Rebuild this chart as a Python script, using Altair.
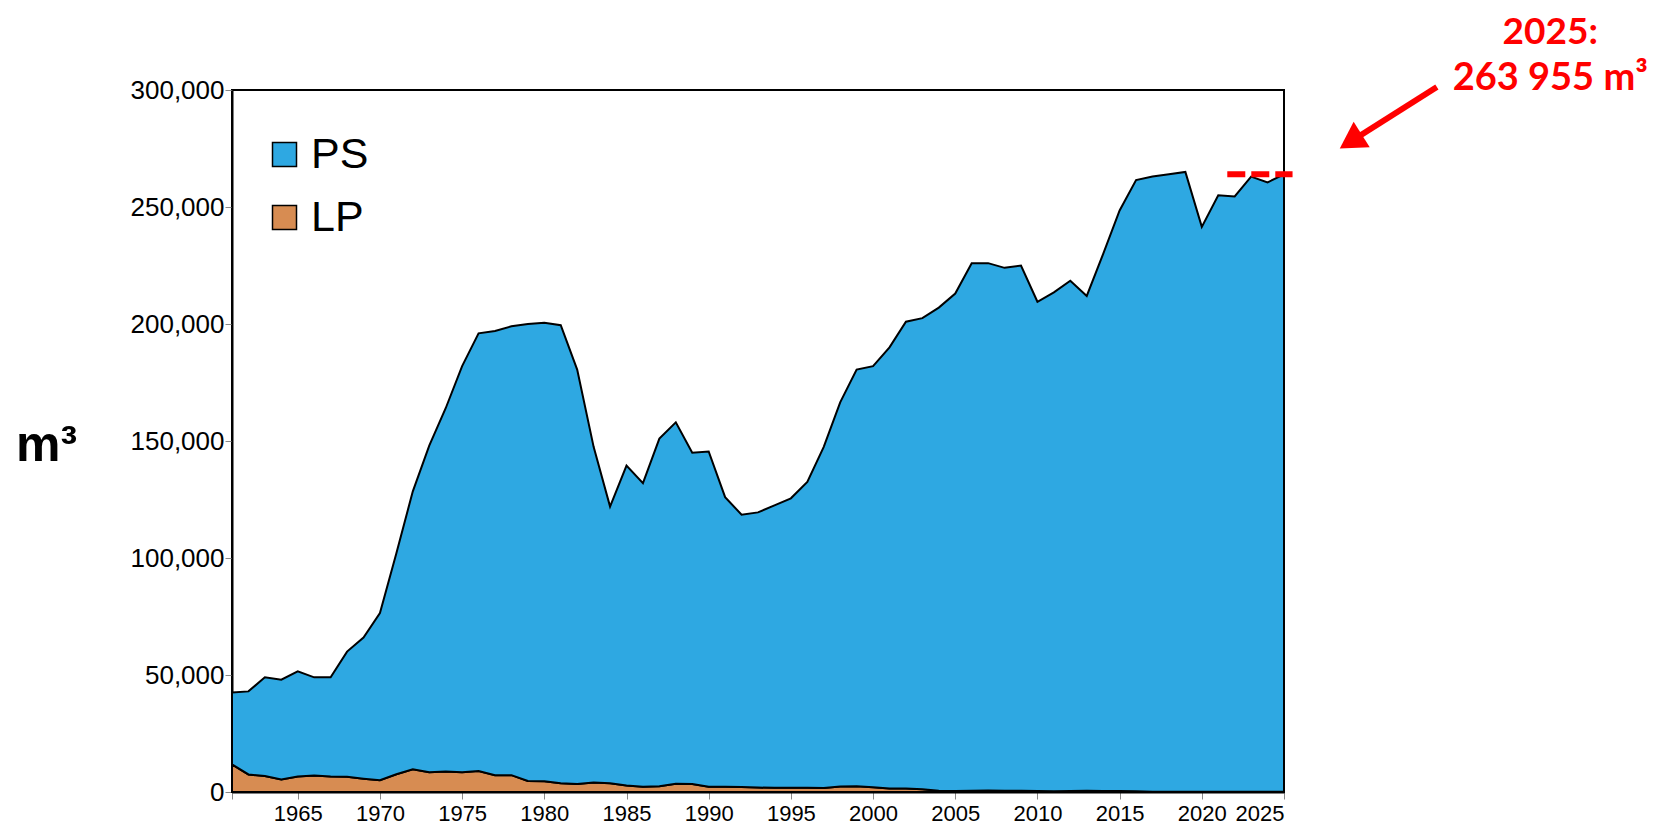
import pandas as pd
import altair as alt

# yearly volumes, m3
years = list(range(1961, 2026))
ps = [30700, 35500, 42200, 42700, 45000, 42000, 42400, 53500, 60300, 71500,
      94400, 118800, 139600, 155200, 173600, 187000, 189800, 191800, 195300, 195900,
      195800, 177100, 143400, 118300, 136700, 129800, 148500, 154500, 141600, 143300,
      123800, 116400, 117600, 120700, 123700, 130700, 145800, 164100, 178000, 180000,
      188500, 199500, 201300, 206500, 212600, 225500, 225400, 223500, 224500, 209100,
      213200, 218100, 211500, 229600, 248100, 261200, 262900, 263900, 264900, 241400,
      254900, 254400, 262900, 260400, 263855]
lp = [11800, 7500, 6800, 5300, 6600, 7000, 6600, 6500, 5700, 5000,
      7600, 9700, 8400, 8800, 8400, 9000, 7200, 7200, 4700, 4600,
      3700, 3400, 4100, 3700, 2800, 2200, 2500, 3500, 3400, 2200,
      2200, 2100, 1900, 1800, 1800, 1800, 1700, 2400, 2500, 2000,
      1500, 1500, 1200, 500, 400, 500, 600, 500, 500, 400,
      300, 400, 500, 400, 400, 300, 100, 100, 100, 100,
      100, 100, 100, 100, 100]

series = ["PS", "LP"]
colors = ["#2ea8e2", "#d78c52"]
x_ticks = [1961] + list(range(1965, 2026, 5))
y_ticks = [0, 50000, 100000, 150000, 200000, 250000, 300000]

rows = []
for i, yr in enumerate(years):
    rows.append({"year": yr, "series": "LP", "value": lp[i], "ord": 0})
    rows.append({"year": yr, "series": "PS", "value": ps[i], "ord": 1})
df = pd.DataFrame(rows)

x_scale = alt.Scale(domain=[1961, 2025], nice=False, zero=False)
y_scale = alt.Scale(domain=[0, 300000], nice=False)

areas = alt.Chart(df).mark_area(stroke="black", strokeWidth=2).encode(
    x=alt.X("year:Q", scale=x_scale,
            axis=alt.Axis(values=x_ticks, format="d", title=None,
                          labelExpr="datum.value == 1961 ? '' : datum.label",
                          labelFontSize=22, tickSize=7, labelPadding=4,
                          labelOverlap=False)),
    y=alt.Y("value:Q", stack="zero", scale=y_scale,
            axis=alt.Axis(values=y_ticks, format=",d", title="m³",
                          titleAngle=0, titleFontSize=50, titleFontWeight="bold",
                          titleX=-186, titleY=355, titleAlign="center",
                          titleBaseline="middle", titleColor="black",
                          labelFontSize=26, tickSize=7, labelPadding=1)),
    color=alt.Color("series:N", scale=alt.Scale(domain=series, range=colors),
                    legend=alt.Legend(title=None, orient="none", legendX=31, legendY=43,
                                      symbolType="square", symbolSize=576,
                                      symbolStrokeColor="black", symbolStrokeWidth=1.5,
                                      symbolOpacity=1, labelFontSize=43,
                                      labelFont="Liberation Sans", labelColor="black",
                                      labelOffset=5, rowPadding=19, padding=0)),
    order=alt.Order("ord:Q"),
)

one = pd.DataFrame({"a": [0]})

dash = alt.Chart(one).mark_rule(color="red", strokeWidth=6, strokeDash=[18, 6]).encode(
    x=alt.datum(2021.55), x2=alt.datum(2025.52), y=alt.datum(264000)
)

shaft = alt.Chart(one).mark_rule(color="red", strokeWidth=6).encode(
    x=alt.datum(2034.3), x2=alt.datum(2029.06), y=alt.datum(301300), y2=alt.datum(278000)
)

head = alt.Chart(one).mark_point(shape="triangle-up", size=900, angle=237.5,
                                  filled=True, color="red", opacity=1).encode(
    x=alt.datum(2029.06), y=alt.datum(278000)
)

txt1 = alt.Chart(one).mark_text(text="2025:", font="Lato", fontWeight="bold",
                                fontSize=37, color="red").encode(
    x=alt.datum(2041.2), y=alt.datum(324400)
)
txt2 = alt.Chart(one).mark_text(text="263 955 m³", font="Lato", fontWeight="bold",
                                fontSize=38, color="red").encode(
    x=alt.datum(2041.2), y=alt.datum(304600)
)

chart = alt.layer(areas, dash, shaft, head, txt1, txt2).properties(
    width=1052, height=702,
    padding={"left": 224, "top": 82, "right": 369, "bottom": 33},
    autosize=alt.AutoSizeParams(type="none"),
).configure_view(
    stroke="black", strokeWidth=2
).configure_axis(
    grid=False, labelFont="Liberation Sans", labelColor="black",
    titleFont="Liberation Sans", tickColor="#888888", tickWidth=1,
    domainColor="black", domainWidth=2
)

chart.save("out.html", embed_options={"renderer": "svg", "actions": False})
